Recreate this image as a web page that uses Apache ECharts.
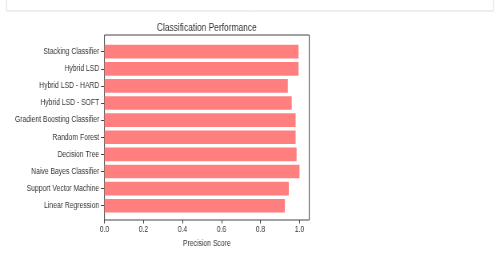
<!DOCTYPE html>
<html><head><meta charset="utf-8">
<script src="https://cdn.jsdelivr.net/npm/echarts@6/dist/echarts.min.js"></script>
<style>html,body{margin:0;padding:0;background:#fff;overflow:hidden;width:495px;height:254px}
#c{width:619px;height:254px;transform:scaleX(0.8);transform-origin:0 0}</style>
</head><body><div id="c"></div>
<script>
const categories = ["Stacking Classifier","Hybrid LSD","Hybrid LSD - HARD","Hybrid LSD - SOFT","Gradient Boosting Classifier","Random Forest","Decision Tree","Naive Bayes Classifier","Support Vector Machine","Linear Regression"];
const precision = [0.995, 0.995, 0.94, 0.96, 0.98, 0.98, 0.985, 1.0, 0.945, 0.925];
const xTicks = [0, 0.2, 0.4, 0.6, 0.8, 1.0];
const titleText = "Classification Performance";
const xName = "Precision Score";

const FONT = "'Liberation Sans',Arial,sans-serif";
const chart = echarts.init(document.getElementById('c'), null, {renderer:'canvas'});
chart.setOption({
  animation:false,
  textStyle:{fontFamily:FONT},
  title:{text:titleText,left:258.5,top:22.5,padding:0,textAlign:'center',textStyle:{fontFamily:FONT,fontSize:10.5,fontWeight:'normal',color:'#333'}},
  graphic:[{type:'rect',shape:{x:8.1,y:-6,width:608.7,height:17},style:{fill:'none',stroke:'#dcdcdc',lineWidth:1},silent:true}],
  grid:[
    {left:130.6,right:232.4,top:43.1,bottom:39.7,show:false,outerBoundsMode:'none',containLabel:false},
    {left:130.6,right:232.4,top:35,bottom:34,show:true,borderColor:'#444',borderWidth:1,backgroundColor:'transparent',outerBoundsMode:'none',containLabel:false}
  ],
  xAxis:[
    {type:'value',gridIndex:0,min:0,max:1.05,interval:0.2,offset:5.7,
     axisLine:{show:false},splitLine:{show:false},
     axisTick:{show:true,length:3.5,lineStyle:{color:'#444'},customValues:xTicks},
     axisLabel:{fontFamily:FONT,fontSize:8.5,color:'#333',margin:5,customValues:xTicks,formatter:v=>v.toFixed(1)},
     name:xName,nameLocation:'middle',nameGap:16,nameTextStyle:{fontFamily:FONT,fontSize:8.5,color:'#333'}},
    {type:'value',gridIndex:1,show:false,min:0,max:1}
  ],
  yAxis:[
    {type:'category',gridIndex:0,data:categories,inverse:true,
     axisLine:{show:false},
     axisTick:{show:true,alignWithLabel:true,length:4.4,lineStyle:{color:'#444'}},
     axisLabel:{fontFamily:FONT,fontSize:8.5,color:'#333',margin:6.5}},
    {type:'value',gridIndex:1,show:false,min:0,max:1}
  ],
  series:[{type:'bar',xAxisIndex:0,yAxisIndex:0,data:precision,barWidth:'80%',
    itemStyle:{color:'#ff7f7f'}}]
});
</script></body></html>
